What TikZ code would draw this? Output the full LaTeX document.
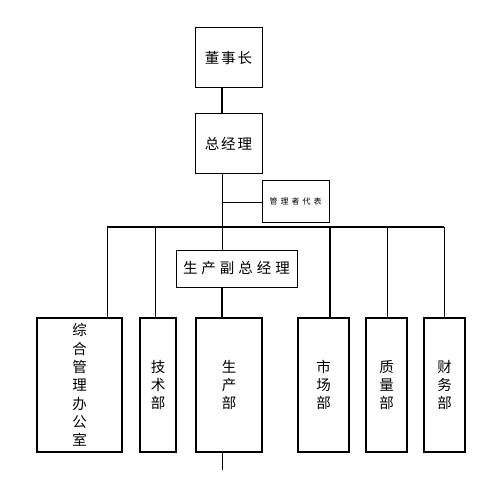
\documentclass[tikz,border=0pt]{standalone}
\usepackage{fontspec}
\newfontfamily\cjk{Noto Sans CJK SC}
\usetikzlibrary{positioning}

\begin{document}
\begin{tikzpicture}[x=1pt, y=-1pt,
  topbox/.style={rectangle, draw, line width=1pt, minimum width=67pt, minimum height=60pt, font=\cjk\fontsize{14.5}{14.5}\selectfont},
  repbox/.style={rectangle, draw, line width=1pt, minimum width=67pt, minimum height=42pt, font=\cjk\fontsize{8}{8}\selectfont},
  vpbox/.style={rectangle, draw, line width=1pt, minimum width=121pt, minimum height=37pt, font=\cjk\fontsize{14.5}{14.5}\selectfont},
  dept/.style={rectangle, draw, line width=1.8pt, minimum height=134pt, align=center, inner sep=0pt, font=\cjk\fontsize{14.5}{18.3}\selectfont},
  link/.style={line width=0.9pt},
  heavy/.style={line width=2.2pt}
]
\useasboundingbox (0,0) rectangle (500,500);

% Top of the chart
\node[topbox] (chair) at (228.5,58)    {董\hspace{2pt}事\hspace{2pt}长};
\node[topbox] (gm)    at (228.5,143.5) {总\hspace{2pt}经\hspace{2pt}理};
\node[repbox] (rep)   at (295.5,201)   {管\hspace{3pt}理\hspace{3pt}者\hspace{3pt}代\hspace{3pt}表};
\node[vpbox]  (vp)    at (236.5,268.5) {生\hspace{4pt}产\hspace{4pt}副\hspace{4pt}总\hspace{4pt}经\hspace{4pt}理};

% Departments
\node[dept, minimum width=85pt] (office)  at (79.5,385)  {综\\合\\管\\理\\办\\公\\室};
\node[dept, minimum width=36pt] (tech)    at (158,385)   {技\\术\\部};
\node[dept, minimum width=66pt] (prod)    at (229,385)   {生\\产\\部};
\node[dept, minimum width=51pt] (market)  at (323.5,385) {市\\场\\部};
\node[dept, minimum width=41pt] (quality) at (386.5,385) {质\\量\\部};
\node[dept, minimum width=41pt] (finance) at (444.5,385) {财\\务\\部};

% Spine and bus points
\coordinate (spine) at (222,202);
\coordinate (b1) at (107,227);
\coordinate (b2) at (155,227);
\coordinate (b3) at (222,227);
\coordinate (b4) at (330,227);
\coordinate (b5) at (387,227);
\coordinate (b6) at (444,227);
\coordinate (tail) at (222,470);

\draw[heavy] (chair.south -| spine) -- (gm.north -| spine);
\draw[link] (gm.south -| spine) -- (b3);
\draw[link] (spine) -- (spine -| rep.west);
\draw[heavy] (b1) -- (b6);

% Drops to the departments
\draw[link]  (b1) -- (b1 |- office.north);
\draw[link]  (b2) -- (b2 |- tech.north);
\draw[link]  (b3) -- (b3 |- vp.north);
\draw[heavy] (b3 |- vp.south) -- (b3 |- prod.north);
\draw[heavy] (b4) -- (b4 |- market.north);
\draw[link]  (b5) -- (b5 |- quality.north);
\draw[link]  (b6) -- (b6 |- finance.north);
\draw[link]  (b3 |- prod.south) -- (tail);

\end{tikzpicture}
\end{document}
